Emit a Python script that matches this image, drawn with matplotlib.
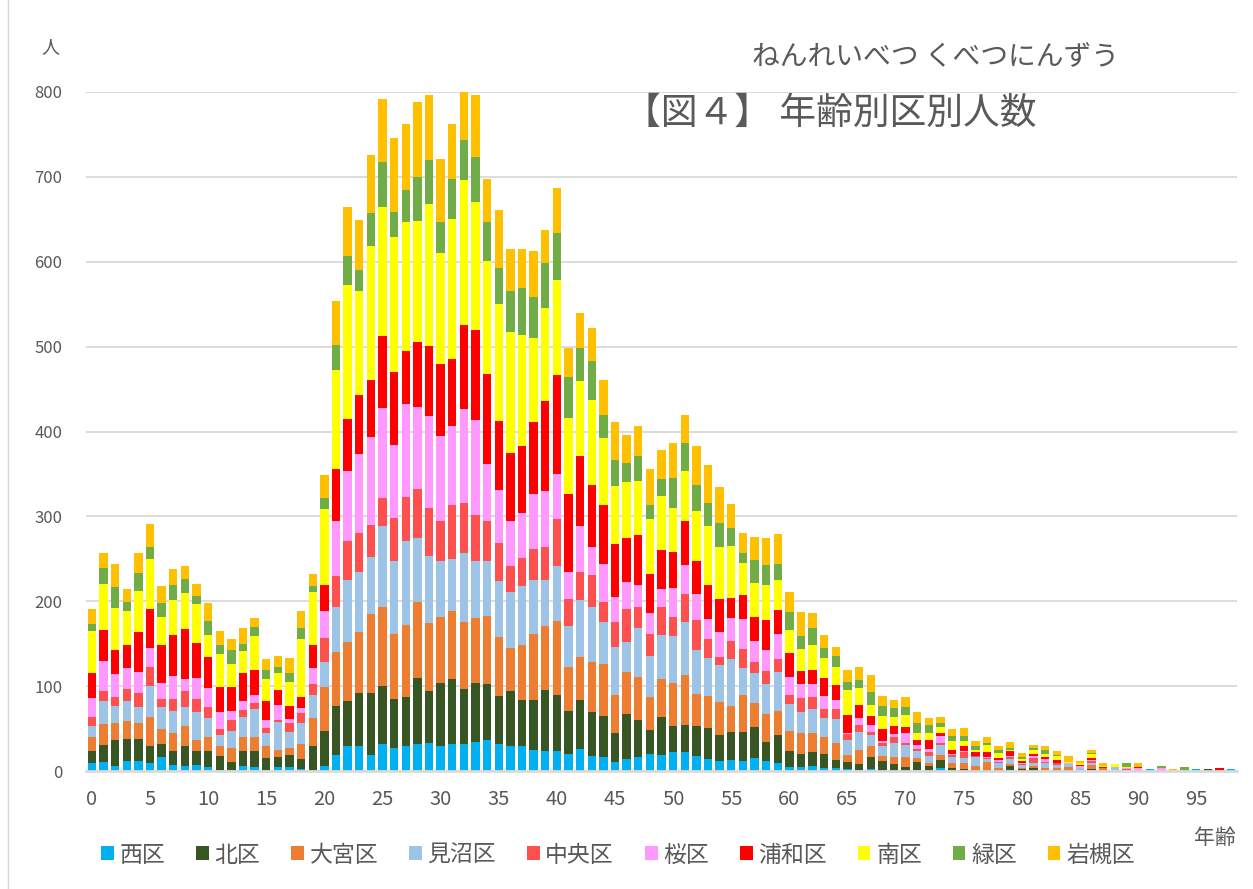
import matplotlib
matplotlib.use('Agg')
import matplotlib.pyplot as plt
import numpy as np
from matplotlib.patches import Patch
from matplotlib.lines import Line2D

plt.rcParams['font.family'] = ['Noto Sans CJK JP', 'DejaVu Sans']

ages = list(range(99))
tick_ages = list(range(0, 96, 5))

names = ['西区', '北区', '大宮区', '見沼区', '中央区', '桜区', '浦和区', '南区', '緑区', '岩槻区']
colors = ['#00B0F0', '#375623', '#ED7D31', '#9DC3E6', '#FF5050',
          '#FF99FF', '#FF0000', '#FFFF00', '#70AD47', '#FFC000']

nishi = [10,11,6,12,12,10,16,7,6,7,
         5,1,1,6,5,1,5,5,2,1,
         6,19,30,29,19,32,27,29,32,33,
         30,32,32,34,36,32,29,30,25,23,
         23,20,26,18,17,11,14,17,20,19,
         22,22,18,14,12,13,12,15,12,10,
         5,5,6,4,3,2,1,2,0,0,
         0,1,0,4,0,0,0,0,0,1,
         0,0,0,0,0,0,1,0,0,0,
         0,2,0,0,0,2,0,0,2]
kita = [14,20,30,26,26,19,16,16,23,17,
        19,17,10,18,19,14,11,14,12,29,
        41,57,53,63,73,68,58,58,78,61,
        74,76,65,70,66,56,65,54,59,73,
        66,51,58,51,48,34,53,43,28,45,
        31,32,35,37,30,33,34,37,22,32,
        18,15,16,16,10,9,7,15,12,8,
        5,10,6,9,3,2,1,1,1,5,
        2,4,0,1,1,0,1,0,0,0,
        0,0,0,0,0,0,2,0,0]
omiya = [16,24,20,21,18,35,17,22,24,13,
         16,11,16,16,16,15,9,8,18,33,
         52,64,69,72,93,93,77,85,89,80,
         78,81,79,76,81,70,51,64,77,75,
         88,52,50,59,61,44,50,51,39,44,
         51,59,38,37,39,31,43,28,33,29,
         24,25,23,20,20,8,17,12,6,9,
         11,4,4,6,6,7,5,10,2,2,
         2,2,3,3,4,0,5,3,0,0,
         0,0,0,0,0,0,0,0,0]
minuma = [13,27,20,24,19,36,26,26,22,32,
          23,14,20,24,33,15,33,19,24,26,
          29,53,73,71,67,96,86,99,75,79,
          65,61,81,68,65,66,66,70,64,54,
          65,48,68,65,49,57,35,58,49,52,
          55,62,51,45,44,55,32,35,35,46,
          32,25,28,22,28,17,21,13,11,16,
          15,8,8,12,8,6,11,3,6,6,
          3,4,6,3,3,4,2,1,5,1,
          0,0,0,0,0,0,0,0,0]
chuo = [11,12,11,14,17,22,10,14,19,16,
        12,6,13,8,7,6,2,11,12,13,
        29,37,46,46,38,33,50,52,58,57,
        47,63,59,54,46,45,31,33,36,39,
        55,32,33,38,24,29,39,24,25,33,
        23,33,36,23,9,21,23,13,16,15,
        10,16,14,11,12,8,8,4,4,7,
        2,3,4,2,2,7,1,1,2,3,
        1,5,2,2,0,0,3,0,0,1,
        1,0,1,0,0,0,0,0,0]
sakura = [22,36,27,24,25,23,19,27,14,24,
          23,20,11,11,10,9,18,4,6,19,
          31,65,82,92,104,106,86,109,97,108,
          101,94,111,112,68,62,53,53,65,66,
          53,31,54,33,45,30,32,26,25,22,
          34,35,30,23,30,27,35,25,24,30,
          22,17,16,15,11,1,8,8,2,4,
          12,5,4,8,1,1,0,1,2,1,
          1,3,3,1,2,2,1,0,0,1,
          2,0,2,0,0,0,0,0,0]
urawa = [30,36,29,27,47,46,45,48,59,42,
         36,30,28,32,29,22,18,15,13,27,
         31,61,62,70,67,85,86,63,77,83,
         84,79,99,106,106,81,80,79,85,106,
         116,92,82,73,69,63,52,59,46,45,
         42,51,39,40,39,24,28,29,36,28,
         28,15,16,22,17,21,16,11,14,9,
         7,5,10,4,5,6,4,6,2,6,
         3,2,2,3,0,1,2,1,0,1,
         2,0,0,0,0,0,0,3,0]
minami = [49,54,49,41,48,59,32,41,43,46,
          26,39,27,26,40,26,19,29,69,63,
          90,116,158,123,158,152,159,152,142,167,
          131,164,170,150,133,138,142,131,99,109,
          112,90,88,100,79,68,65,64,65,64,
          52,59,59,70,61,61,38,39,41,35,
          27,26,30,23,22,29,20,13,16,11,
          14,9,9,7,10,6,3,9,6,1,
          2,5,4,5,1,2,5,1,3,1,
          0,0,0,0,0,0,0,0,0]
midori = [8,19,25,10,21,14,17,18,16,9,
          17,11,17,9,11,11,8,11,13,7,
          13,30,34,24,39,52,30,38,52,52,
          37,48,48,54,46,43,48,55,49,53,
          56,48,39,46,28,30,23,29,16,20,
          35,34,31,27,28,21,12,28,24,19,
          21,15,19,12,12,10,9,15,11,10,
          9,12,9,5,6,6,4,2,4,2,
          2,2,5,1,0,1,1,0,0,4,
          0,0,3,0,5,0,0,0,0]
iwatsuki = [18,18,27,16,24,27,20,19,15,14,
            21,16,13,18,10,13,12,17,19,14,
            27,52,58,59,68,75,87,77,88,76,
            74,64,56,73,50,68,50,46,54,39,
            53,34,42,39,41,45,33,35,43,34,
            41,33,46,44,43,29,24,27,32,35,
            24,28,18,15,11,14,16,20,12,10,
            12,13,9,7,8,10,6,7,4,7,
            5,4,5,4,7,2,4,4,0,0,
            4,0,0,2,0,0,0,0,0]

series = [nishi, kita, omiya, minuma, chuo, sakura, urawa, minami, midori, iwatsuki]

TXT = '#595959'
W, H = 1253, 889
fig = plt.figure(figsize=(W / 100, H / 100), dpi=100)
ax = fig.add_axes([86 / W, 1 - 771 / H, (1237 - 86) / W, (771 - 92) / H])

bottom = np.zeros(len(ages))
for name, vals, c in zip(names, series, colors):
    v = np.array(vals, dtype=float)
    ax.bar(ages, v, bottom=bottom, width=0.72, color=c, linewidth=0, label=name, zorder=3)
    bottom += v

ax.set_xlim(-0.5, 98.5)
ax.set_ylim(0, 800)
ax.set_yticks(range(0, 801, 100))
ax.set_xticks(tick_ages)
ax.set_xticklabels([str(a) for a in tick_ages])
ax.tick_params(axis='y', length=0, pad=17, labelsize=12, labelcolor=TXT)
ax.tick_params(axis='x', length=0, pad=13, labelsize=14.5, labelcolor=TXT)
ax.yaxis.grid(True, color='#D9D9D9', linewidth=1.3, zorder=0)
ax.set_axisbelow(True)
for s in ['top', 'right', 'left']:
    ax.spines[s].set_visible(False)
ax.spines['bottom'].set_color('#D9D9D9')
ax.spines['bottom'].set_linewidth(2)
ax.spines['bottom'].set_zorder(4)

fig.text(50 / W, 1 - 47 / H, '人', fontsize=13, color=TXT, ha='center', va='center')
fig.text(935 / W, 1 - 57 / H, 'ねんれいべつ くべつにんずう', fontsize=20, color=TXT,
         ha='center', va='center')
fig.text(624 / W, 1 - 113 / H, '【図４】 年齢別区別人数', fontsize=26.5, color=TXT,
         ha='left', va='center')
fig.text(1236 / W, 1 - 838 / H, '年齢', fontsize=15, color=TXT, ha='right', va='center')

handles = [Patch(facecolor=c, edgecolor='none') for c in colors]
leg = fig.legend(handles, names, loc='center', bbox_to_anchor=(618 / W, 1 - 855 / H),
                 ncol=10, frameon=False, fontsize=16.5, handlelength=0.55, handleheight=0.55,
                 handletextpad=0.25, columnspacing=1.35)
for t in leg.get_texts():
    t.set_color(TXT)

fig.add_artist(Line2D([8 / W, 8 / W], [0, 1], transform=fig.transFigure,
                      color='#D9D9D9', linewidth=1))

fig.savefig('out.png', dpi=100)
